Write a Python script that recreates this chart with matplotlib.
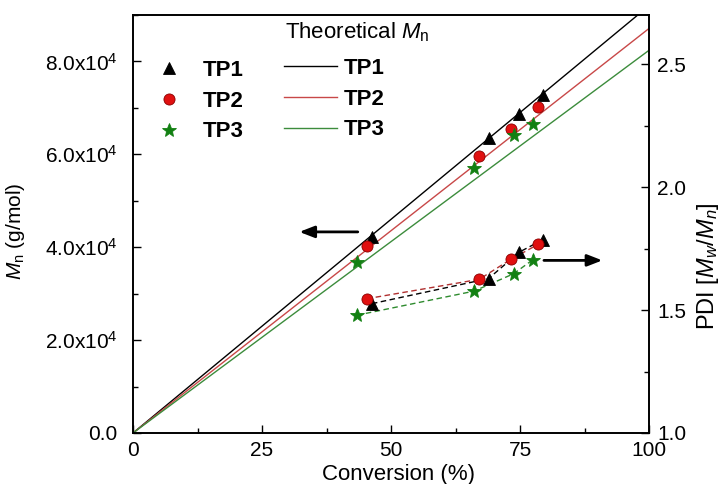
import matplotlib
matplotlib.use("Agg")
import matplotlib.pyplot as plt
from matplotlib.ticker import MultipleLocator, FuncFormatter

plt.rcParams['font.family'] = ['Liberation Sans', 'DejaVu Sans']
plt.rcParams['mathtext.fontset'] = 'custom'
plt.rcParams['mathtext.rm'] = 'Liberation Sans'
plt.rcParams['mathtext.it'] = 'Liberation Sans:italic'
plt.rcParams['mathtext.bf'] = 'Liberation Sans:bold'

# ---- data ----
series = ["TP1", "TP2", "TP3"]
conv_tp1 = [46.3, 68.9, 74.9, 79.4]
conv_tp2 = [45.3, 67.1, 73.2, 78.5]
conv_tp3 = [43.4, 66.1, 73.8, 77.5]
mn_tp1 = [42200, 63500, 68700, 72700]
mn_tp2 = [40300, 59700, 65500, 70200]
mn_tp3 = [36900, 57000, 64100, 66600]
pdi_tp1 = [1.526, 1.628, 1.736, 1.786]
pdi_tp2 = [1.546, 1.625, 1.706, 1.767]
pdi_tp3 = [1.479, 1.577, 1.648, 1.705]
theo_conv = [0, 100]
theo_tp1 = [0, 92000]
theo_tp2 = [0, 87100]
theo_tp3 = [0, 82400]

colors = ["#000000", "#e01010", "#128012"]
line_colors = ["#000000", "#c84848", "#3c8c3c"]
dash_colors = ["#000000", "#b03030", "#2e8b2e"]
markers = ["^", "o", "*"]
msizes = [8.5, 8, 10]

fig = plt.figure(figsize=(7.24, 4.84), dpi=100)
ax = fig.add_axes([133/724, 1-433/484, (649-133)/724, (433-15)/484])
ax2 = ax.twinx()

convs = [conv_tp1, conv_tp2, conv_tp3]
mns = [mn_tp1, mn_tp2, mn_tp3]
pdis = [pdi_tp1, pdi_tp2, pdi_tp3]
theos = [theo_tp1, theo_tp2, theo_tp3]

line_handles = []
for i in range(3):
    h, = ax.plot(theo_conv, theos[i], color=line_colors[i], lw=1.0, label=series[i])
    line_handles.append(h)

marker_handles = []
for i in range(3):
    ec = "#8a0000" if i == 1 else colors[i]
    h, = ax.plot(convs[i], mns[i], linestyle="none", marker=markers[i], color=colors[i],
                 markersize=msizes[i], markeredgecolor=ec, markeredgewidth=0.6,
                 label=series[i], zorder=5)
    marker_handles.append(h)
    ax2.plot(convs[i], pdis[i], linestyle=(0, (4, 2.5)), lw=1.0, color=dash_colors[i], zorder=3)
    ax2.plot(convs[i], pdis[i], linestyle="none", marker=markers[i], color=colors[i],
             markersize=msizes[i], markeredgecolor=ec, markeredgewidth=0.6, zorder=5)

ax.set_xlim(0, 100)
ax.set_ylim(0, 90000)
ax2.set_ylim(1.0, 2.7)

# arrows
ax.annotate("", xy=(31.7, 43300), xytext=(44.1, 43300),
            arrowprops=dict(arrowstyle="-|>,head_length=0.9,head_width=0.35", color="black", lw=2))
ax2.annotate("", xy=(91.5, 1.702), xytext=(79.1, 1.702),
             arrowprops=dict(arrowstyle="-|>,head_length=0.9,head_width=0.35", color="black", lw=2))

ax.xaxis.set_major_locator(MultipleLocator(25))
ax.xaxis.set_minor_locator(MultipleLocator(12.5))
ax.yaxis.set_major_locator(MultipleLocator(20000))
ax.yaxis.set_minor_locator(MultipleLocator(10000))
ax2.yaxis.set_major_locator(MultipleLocator(0.5))
ax2.yaxis.set_minor_locator(MultipleLocator(0.25))

def fmt_y(v, pos):
    if v == 0:
        return "0.0"
    return r"%.1fx10$^{4}$" % (v / 1e4)

ax.yaxis.set_major_formatter(FuncFormatter(fmt_y))
ax.xaxis.set_major_formatter(FuncFormatter(lambda v, p: "%d" % v))
ax2.yaxis.set_major_formatter(FuncFormatter(lambda v, p: "%.1f" % v))

ax.tick_params(axis="both", which="both", direction="in", labelsize=15, top=False, right=False)
ax.tick_params(axis="x", which="major", pad=6)
ax.tick_params(axis="y", which="major", pad=11)
ax.tick_params(which="major", length=6, width=1)
ax.tick_params(which="minor", length=3.5, width=1)
ax2.tick_params(axis="y", which="both", direction="in", labelsize=15, pad=6)
ax2.tick_params(which="major", length=6, width=1)
ax2.tick_params(which="minor", length=3.5, width=1)
for a in (ax, ax2):
    for s in a.spines.values():
        s.set_linewidth(1.2)

ax.set_xlabel("Conversion (%)", fontsize=16)
ax.xaxis.set_label_coords(0.515, -0.075)
ax.set_ylabel(r"$\mathit{M}_{\mathrm{n}}$ (g/mol)", fontsize=15)
ax.yaxis.set_label_coords(-0.205, 0.483)
ax2.set_ylabel(r"PDI [$\mathit{M}_{\mathit{w}}$/$\mathit{M}_{\mathit{n}}$]", fontsize=17)
ax2.yaxis.set_label_coords(1.09, 0.40)

leg1 = ax.legend(handles=marker_handles, labels=series, loc="upper left",
                 bbox_to_anchor=(0.027, 0.914), frameon=False,
                 prop={"weight": "bold", "size": 16}, handlelength=1.2,
                 handletextpad=0.9, labelspacing=0.44, borderaxespad=0)
ax.add_artist(leg1)
leg2 = ax.legend(handles=line_handles, labels=series, loc="upper left",
                 bbox_to_anchor=(0.275, 0.919), frameon=False,
                 prop={"weight": "bold", "size": 16}, handlelength=2.4,
                 handletextpad=0.3, labelspacing=0.44, borderaxespad=0)
ax.text(0.295, 0.959, r"Theoretical $\mathit{M}_{\mathrm{n}}$", transform=ax.transAxes,
        fontsize=16, ha="left", va="center")

fig.savefig("out.png", dpi=100)
